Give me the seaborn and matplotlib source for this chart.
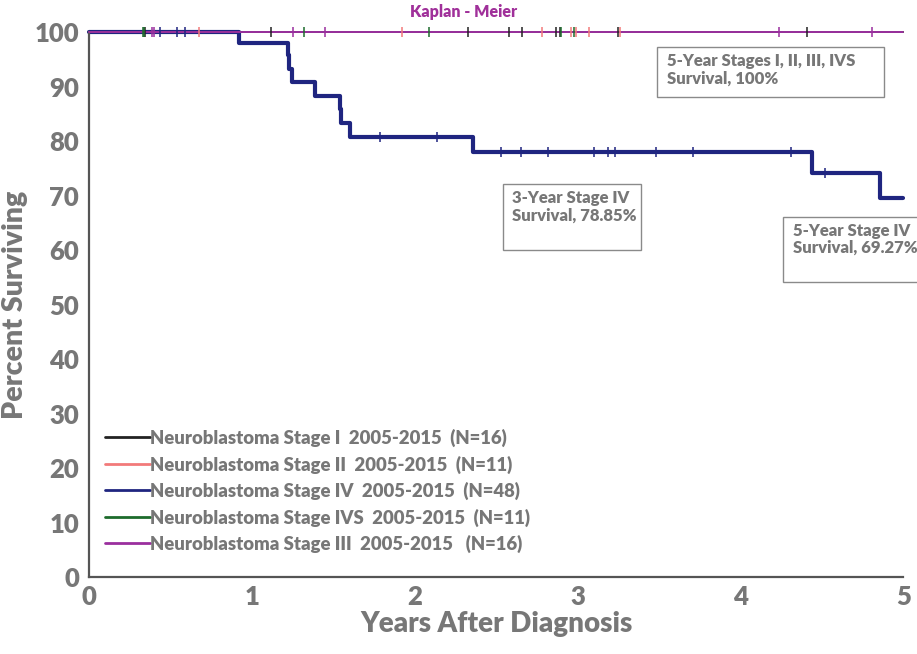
import numpy as np
import pandas as pd
import matplotlib
matplotlib.use("Agg")
import matplotlib.pyplot as plt
import seaborn as sns
from matplotlib.patches import Rectangle

sns.set_theme(style="white")
plt.rcParams['font.family'] = ['Lato', 'DejaVu Sans']
plt.rcParams['font.weight'] = 'bold'

# ---------------- data ----------------
labels = [
    "Neuroblastoma Stage I  2005-2015  (N=16)",
    "Neuroblastoma Stage II  2005-2015  (N=11)",
    "Neuroblastoma Stage IV  2005-2015  (N=48)",
    "Neuroblastoma Stage IVS  2005-2015  (N=11)",
    "Neuroblastoma Stage III  2005-2015   (N=16)",
]
colors = ["#222222", "#f27a7a", "#1f2580", "#1d6b2c", "#9a2f9e"]

# step curves: times where survival changes and survival after each time
stage1_times, stage1_surv = [0, 5.0], [100, 100]
stage2_times, stage2_surv = [0, 5.0], [100, 100]
stage3_times, stage3_surv = [0, 5.0], [100, 100]
stageivs_times, stageivs_surv = [0, 5.0], [100, 100]
stage4_times = [0, 0.92, 1.22, 1.23, 1.245, 1.39, 1.54, 1.55, 1.60, 2.36, 4.44, 4.855, 5.0]
stage4_surv = [100, 97.9, 95.7, 93.3, 90.8, 88.3, 85.8, 83.3, 80.8, 78.0, 74.1, 69.5, 69.5]

# censor times
stage1_censor = [0.345, 1.12, 2.33, 2.58, 2.66, 2.87, 2.89, 3.25, 4.41]
stage2_censor = [0.675, 1.92, 2.78, 2.96, 2.99, 3.07, 3.26]
stage4_censor = [0.436, 0.54, 0.59, 1.79, 2.14, 2.53, 2.65, 2.82, 3.10, 3.19, 3.23,
                 3.48, 3.71, 4.31, 4.52]
stageivs_censor = [0.33, 0.34, 1.32, 2.09, 2.90, 2.98]
stage3_censor = [0.385, 0.40, 1.255, 1.45, 4.24, 4.81]

curves = [
    (stage1_times, stage1_surv, stage1_censor),
    (stage2_times, stage2_surv, stage2_censor),
    (stage4_times, stage4_surv, stage4_censor),
    (stageivs_times, stageivs_surv, stageivs_censor),
    (stage3_times, stage3_surv, stage3_censor),
]
widths = [1.4, 1.4, 3.0, 1.4, 1.4]

annotations = [
    ("5-Year Stages I, II, III, IVS\nSurvival, 100%", (3.49, 88.1, 1.39, 9.1)),
    ("3-Year Stage IV\nSurvival, 78.85%", (2.54, 60.0, 0.85, 12.1)),
    ("5-Year Stage IV\nSurvival, 69.27%", (4.26, 54.1, 0.90, 12.0)),
]

TXT = "#777777"
SPINE = "#555555"

fig = plt.figure(figsize=(9.17, 6.54), dpi=100)
ax = fig.add_axes([0.097, 0.1177, 0.888, 0.8333])


def surv_at(times, surv, t):
    idx = np.searchsorted(np.asarray(times), np.asarray(t), side="right") - 1
    return np.asarray(surv)[idx]


for i, ((t, s, c), lab, col, lw) in enumerate(zip(curves, labels, colors, widths)):
    df = pd.DataFrame({"t": t, "s": s})
    sns.lineplot(data=df, x="t", y="s", ax=ax, color=col, linewidth=lw,
                 drawstyle="steps-post", label=lab, estimator=None, sort=False,
                 clip_on=False, zorder=2 if i == 2 else 3)
    cdf = pd.DataFrame({"t": c, "s": surv_at(t, s, c)})
    sns.scatterplot(data=cdf, x="t", y="s", ax=ax, marker="|", s=50,
                    linewidth=1.1, color=col, clip_on=False, zorder=4,
                    legend=False)

ax.set_xlim(0, 5)
ax.set_ylim(0, 100)
ax.set_xticks(range(0, 6))
ax.set_yticks(range(0, 101, 10))
ax.tick_params(axis="both", direction="in", colors=SPINE, labelcolor=TXT,
               labelsize=18.5, width=1.5)
ax.tick_params(axis="y", length=10, pad=7)
ax.tick_params(axis="x", length=8, pad=6)
for lab in ax.get_xticklabels() + ax.get_yticklabels():
    lab.set_fontweight("heavy")
for sp in ["top", "right"]:
    ax.spines[sp].set_visible(False)
for sp in ["left", "bottom"]:
    ax.spines[sp].set_color(SPINE)
    ax.spines[sp].set_linewidth(1.6)

ax.set_xlabel("Years After Diagnosis", fontsize=20, fontweight="heavy", color=TXT,
              labelpad=1)
ax.set_ylabel("Percent Surviving", fontsize=20.5, fontweight="heavy", color=TXT,
              labelpad=5)

leg = ax.legend(loc="upper left", bbox_to_anchor=(0.02, 0.272), frameon=False,
                fontsize=13.3, handlelength=2.4, handletextpad=0.05,
                labelspacing=0.45, borderpad=0, borderaxespad=0)
for txt in leg.get_texts():
    txt.set_color(TXT)
    txt.set_fontweight("heavy")
for h in leg.legend_handles:
    h.set_linewidth(2.0)

for text, (x0, y0, w, h) in annotations:
    ax.add_patch(Rectangle((x0, y0), w, h, fill=True, facecolor="white",
                           edgecolor="#8a8a8a", linewidth=1.0, clip_on=False,
                           zorder=5))
    ax.text(x0 + 0.06, y0 + h - 1.1, text, ha="left", va="top", fontsize=12,
            fontweight="heavy", color=TXT, linespacing=1.1, zorder=6,
            clip_on=False)

fig.text(0.505, 0.981, "Kaplan - Meier", ha="center", va="center",
         fontsize=11.5, fontweight="heavy", color="#a0309a")

fig.savefig("out.png", dpi=100)
